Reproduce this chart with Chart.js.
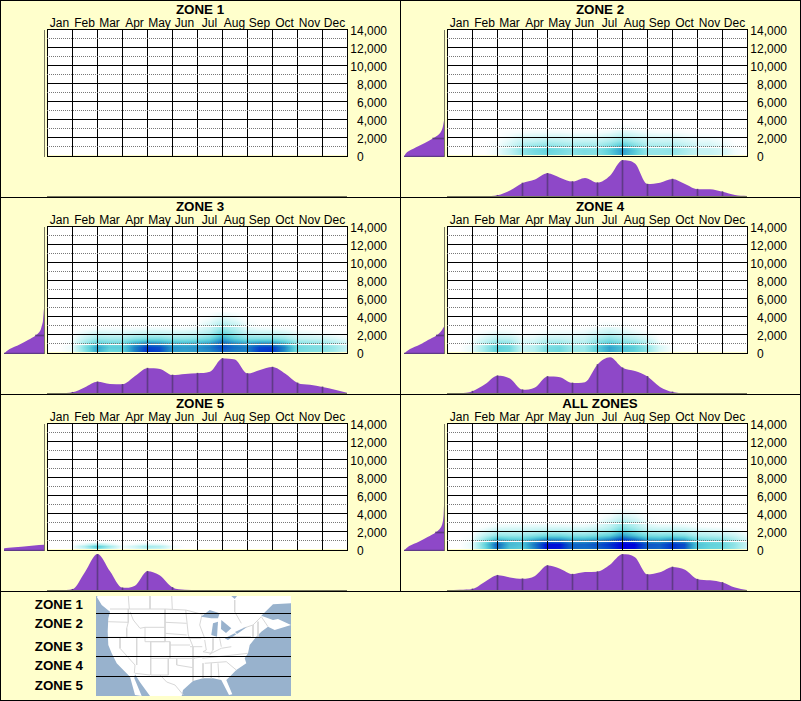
<!DOCTYPE html>
<html>
<head>
<meta charset="utf-8">
<title>Zones</title>
<script src="https://cdn.jsdelivr.net/npm/chart.js@4"></script>
<style>
html, body { margin: 0; padding: 0; background: #ffffcc; overflow: hidden; }
#page { position: relative; width: 801px; height: 701px; }
canvas { position: absolute; display: block; }
.rule { position: absolute; background: #000; z-index: 5; }
</style>
</head>
<body>
<div id="page"></div>
<script>
'use strict'

var months = ['Jan', 'Feb', 'Mar', 'Apr', 'May', 'Jun', 'Jul', 'Aug', 'Sep', 'Oct', 'Nov', 'Dec'];
var zoneNames = ['ZONE 1', 'ZONE 2', 'ZONE 3', 'ZONE 4', 'ZONE 5', 'ALL ZONES'];
var legendNames = ['ZONE 1', 'ZONE 2', 'ZONE 3', 'ZONE 4', 'ZONE 5'];

// bottom profile, one value per half month, percent of the tallest
var monthSteps = [0, .5, 1, 1.5, 2, 2.5, 3, 3.5, 4, 4.5, 5, 5.5, 6, 6.5, 7, 7.5, 8, 8.5, 9, 9.5, 10, 10.5, 11, 11.5, 12];
var profile1 = [];
var profile2 = [0, 0, 0, 0, 2, 15, 36, 46, 63, 51, 40, 50, 37, 56, 99, 90, 33, 37, 47, 33, 19, 19, 12, 3, 0];
var profile3 = [0, 0, 2, 16, 31, 25, 24, 47, 69, 67, 50, 53, 55, 59, 96, 93, 54, 64, 72, 54, 28, 23, 17, 9, 0];
var profile4 = [0, 0, 5, 24, 48, 40, 9, 15, 46, 44, 28, 30, 79, 99, 70, 61, 46, 17, 3, 0, 0, 0, 0, 0, 0];
var profile5 = [0, 0, 2, 50, 100, 52, 6, 12, 52, 40, 7, 1, 0, 0, 0, 0, 0, 0, 0, 0, 0, 0, 0, 0, 0];
var profileAll = [0, 1, 3, 23, 41, 35, 31, 39, 68, 59, 44, 50, 51, 70, 99, 91, 43, 49, 64, 56, 30, 27, 21, 7, 0];

// side profile by elevation
var sideElev = [0, 500, 1000, 1500, 2000, 2500, 3000, 3500, 4000, 4500, 5000];
var sideElevZone5 = [0, 220, 440, 670];
var side1 = [];
var side2 = [100, 92, 71, 48, 28, 12, 5, 2, 0];
var side3 = [100, 86, 61, 40, 21, 10, 6, 3, 2, 1, 0];
var side4 = [100, 85, 60, 40, 19, 7, 0];
var side5 = [100, 100, 50, 0];
var sideAll = [100, 87, 62, 41, 21, 9, 4, 2, 1, 0.5, 0];

// colour strength by elevation row and half month, rows run from the ground up
var heatRows = [0, 500, 1000, 1500, 2000, 2500, 3000, 3500, 4000, 4500];
var heatRowsZone5 = [0, 250, 500, 750];
var heat1 = [];
var heat2 = [
    [0, 0, 0, 0, 3, 14, 30, 38, 42, 38, 32, 36, 34, 46, 64, 48, 30, 30, 30, 22, 14, 14, 10, 3, 0],
    [0, 0, 0, 0, 3, 15, 32, 40, 45, 40, 34, 38, 35, 48, 66, 50, 30, 30, 32, 24, 15, 14, 10, 3, 0],
    [0, 0, 0, 0, 2, 10, 24, 30, 34, 30, 26, 28, 26, 36, 54, 38, 24, 24, 24, 18, 11, 10, 6, 1, 0],
    [0, 0, 0, 0, 1, 6, 14, 16, 20, 18, 15, 16, 15, 22, 34, 24, 15, 14, 14, 10, 6, 6, 3, 0, 0],
    [0, 0, 0, 0, 0, 3, 8, 9, 10, 10, 8, 8, 8, 12, 20, 14, 9, 8, 8, 5, 3, 2, 1, 0, 0],
    [0, 0, 0, 0, 0, 1, 2, 3, 3, 3, 2, 2, 2, 4, 9, 6, 3, 2, 2, 1, 0, 0, 0, 0, 0],
    [0, 0, 0, 0, 0, 0, 0, 0, 0, 0, 0, 0, 0, 0, 2, 1, 0, 0, 0, 0, 0, 0, 0, 0, 0]
];
var heat3 = [
    [0, 0, 3, 32, 62, 42, 44, 72, 92, 88, 66, 64, 66, 70, 80, 74, 72, 90, 92, 70, 40, 36, 34, 26, 12],
    [0, 0, 4, 36, 64, 48, 48, 72, 90, 86, 68, 66, 68, 74, 86, 78, 74, 88, 90, 72, 42, 38, 36, 28, 14],
    [0, 0, 2, 26, 46, 40, 40, 58, 68, 64, 55, 54, 56, 62, 80, 68, 60, 66, 66, 54, 32, 30, 28, 20, 10],
    [0, 0, 1, 14, 26, 24, 24, 32, 36, 36, 30, 30, 32, 40, 62, 46, 34, 34, 34, 28, 16, 14, 12, 8, 3],
    [0, 0, 0, 6, 12, 10, 10, 14, 16, 16, 14, 14, 16, 24, 46, 32, 18, 16, 16, 12, 6, 5, 3, 1, 0],
    [0, 0, 0, 1, 3, 3, 3, 4, 5, 5, 4, 4, 6, 14, 32, 22, 8, 5, 4, 3, 1, 0, 0, 0, 0],
    [0, 0, 0, 0, 0, 0, 0, 0, 0, 0, 0, 0, 2, 8, 22, 14, 3, 0, 0, 0, 0, 0, 0, 0, 0],
    [0, 0, 0, 0, 0, 0, 0, 0, 0, 0, 0, 0, 0, 4, 12, 7, 1, 0, 0, 0, 0, 0, 0, 0, 0],
    [0, 0, 0, 0, 0, 0, 0, 0, 0, 0, 0, 0, 0, 1, 5, 3, 0, 0, 0, 0, 0, 0, 0, 0, 0],
    [0, 0, 0, 0, 0, 0, 0, 0, 0, 0, 0, 0, 0, 0, 1, 0, 0, 0, 0, 0, 0, 0, 0, 0, 0]
];
var heat4 = [
    [0, 0, 5, 26, 46, 40, 14, 20, 38, 42, 28, 28, 46, 62, 52, 46, 32, 8, 1, 0, 0, 0, 0, 0, 0],
    [0, 0, 5, 26, 48, 42, 14, 20, 38, 42, 28, 28, 48, 64, 54, 48, 32, 9, 1, 0, 0, 0, 0, 0, 0],
    [0, 0, 3, 18, 34, 30, 9, 14, 26, 28, 20, 20, 36, 48, 38, 34, 20, 4, 0, 0, 0, 0, 0, 0, 0],
    [0, 0, 1, 9, 18, 16, 5, 7, 14, 14, 11, 13, 24, 32, 24, 18, 9, 1, 0, 0, 0, 0, 0, 0, 0],
    [0, 0, 0, 3, 7, 5, 1, 2, 4, 5, 5, 6, 12, 18, 12, 7, 3, 0, 0, 0, 0, 0, 0, 0, 0],
    [0, 0, 0, 0, 1, 1, 0, 0, 1, 1, 1, 2, 5, 9, 5, 2, 0, 0, 0, 0, 0, 0, 0, 0, 0],
    [0, 0, 0, 0, 0, 0, 0, 0, 0, 0, 0, 0, 1, 2, 1, 0, 0, 0, 0, 0, 0, 0, 0, 0, 0]
];
var heat5 = [
    [0, 0, 0, 10, 35, 14, 0, 6, 15, 12, 1, 0, 0, 0, 0, 0, 0, 0, 0, 0, 0, 0, 0, 0, 0],
    [0, 0, 1, 22, 55, 28, 3, 12, 28, 22, 4, 0, 0, 0, 0, 0, 0, 0, 0, 0, 0, 0, 0, 0, 0],
    [0, 0, 0, 6, 22, 8, 0, 3, 8, 6, 0, 0, 0, 0, 0, 0, 0, 0, 0, 0, 0, 0, 0, 0, 0],
    [0, 0, 0, 0, 0, 0, 0, 0, 0, 0, 0, 0, 0, 0, 0, 0, 0, 0, 0, 0, 0, 0, 0, 0, 0]
];
var heatAll = [
    [0, 0, 4, 40, 78, 52, 48, 72, 98, 96, 80, 78, 80, 88, 100, 98, 82, 80, 92, 84, 50, 44, 42, 30, 12],
    [0, 0, 5, 44, 82, 56, 52, 76, 98, 98, 80, 80, 84, 92, 100, 100, 84, 82, 92, 86, 52, 46, 44, 32, 14],
    [0, 0, 3, 32, 60, 52, 50, 62, 74, 72, 62, 62, 66, 76, 92, 82, 64, 62, 70, 64, 42, 38, 36, 24, 10],
    [0, 0, 1, 16, 30, 28, 28, 34, 40, 40, 34, 34, 38, 46, 66, 52, 38, 36, 38, 34, 22, 20, 18, 12, 4],
    [0, 0, 0, 6, 14, 14, 14, 16, 18, 18, 16, 16, 20, 26, 46, 34, 20, 18, 18, 16, 10, 8, 6, 3, 0],
    [0, 0, 0, 1, 4, 5, 5, 6, 6, 6, 5, 5, 8, 16, 32, 22, 9, 6, 6, 5, 2, 1, 0, 0, 0],
    [0, 0, 0, 0, 0, 0, 0, 0, 0, 0, 0, 0, 2, 9, 22, 14, 3, 0, 0, 0, 0, 0, 0, 0, 0],
    [0, 0, 0, 0, 0, 0, 0, 0, 0, 0, 0, 0, 0, 4, 12, 7, 1, 0, 0, 0, 0, 0, 0, 0, 0],
    [0, 0, 0, 0, 0, 0, 0, 0, 0, 0, 0, 0, 0, 1, 5, 3, 0, 0, 0, 0, 0, 0, 0, 0, 0],
    [0, 0, 0, 0, 0, 0, 0, 0, 0, 0, 0, 0, 0, 0, 1, 0, 0, 0, 0, 0, 0, 0, 0, 0, 0]
];

var profiles = [profile1, profile2, profile3, profile4, profile5, profileAll];
var sides = [side1, side2, side3, side4, side5, sideAll];
var sideElevs = [sideElev, sideElev, sideElev, sideElev, sideElevZone5, sideElev];
var heats = [heat1, heat2, heat3, heat4, heat5, heatAll];
var rowLists = [heatRows, heatRows, heatRows, heatRows, heatRowsZone5, heatRows];

// locator map in map units (0-195 across, 0-100 down)
var zoneLabelY = [9.3, 28.7, 51.3, 70, 90];
var zoneLineY = [17.5, 41.5, 60.5, 80.5];
var land = [[2, 0], [195, 0], [195, 7.3], [177, 8.3], [165.3, 19.7], [177, 24], [182, 23], [195, 29], [178.7, 34], [172, 30.7],
    [165.3, 35.7], [160.3, 40.7], [153.7, 49], [152, 57.3], [148.7, 62.3], [150.3, 67.3], [140.3, 74], [133.7, 80.7], [130.3, 84],
    [136.3, 98.3], [133, 99], [125.3, 84], [117, 82.3], [107, 82.3], [97, 85], [87, 94], [85.7, 100], [54, 100], [44, 86.3], [39, 78.3],
    [38.3, 82.3], [45.7, 100], [39, 99], [34, 80.7], [27.3, 74], [20.7, 67.3], [15.7, 57.3], [12.3, 49], [11.7, 35.7], [12.3, 22.3],
    [14, 15.7], [5.7, 9], [0.7, 0.7]];
var lakes = [
    [[105, 20.7], [113.7, 14], [123.7, 17.3], [122, 22.3], [115.3, 22.3]],
    [[115.3, 39], [117, 27.3], [122, 25.7], [121, 40.7]],
    [[125.3, 24], [135.3, 32.3], [130, 37], [125, 33]],
    [[128.7, 42.3], [138.7, 37.3], [140.3, 38.3], [132, 44]],
    [[139, 36], [147, 32.3], [151, 31], [141, 38]],
    [[135.3, 0], [141, 0], [138.7, 3]]
];
var borders = [
    [[14, 13], [69, 13], [89.7, 14], [105, 18]],
    [[12, 25.7], [32.3, 26.3]], [[32.3, 13], [32.3, 26.3], [30.7, 32.3], [30.7, 41.3]],
    [[12, 41.3], [49, 41.3]], [[24, 41.3], [24, 52.3], [39, 69], [38.3, 77.3]], [[40.7, 41.3], [40.7, 69]],
    [[34, 15.7], [37.3, 24], [44, 32.3], [49, 31.3]],
    [[49, 31.3], [69, 31.3], [69, 45.7], [49, 45.7], [49, 31.3]],
    [[54.7, 45.7], [54.7, 79]], [[54.7, 45.7], [74, 45.7], [74, 62.3], [54.7, 62.3]],
    [[72.3, 62.3], [72.3, 79], [54.7, 79]], [[39, 77.3], [54, 79]], [[69, 13], [69, 31.3]],
    [[69, 26.3], [90.7, 27.3]], [[69, 37.3], [90.7, 39]], [[74, 49], [94, 49]], [[74, 62.3], [99, 62.3]],
    [[80.7, 62.3], [80.7, 69], [97, 71.7], [97, 85]], [[64, 79], [70.7, 86], [79, 89], [87.3, 99]],
    [[89.7, 14], [92.3, 39], [97, 50.7], [97, 71.7]], [[92.3, 42.3], [105.3, 42.3]], [[94, 50.7], [106.3, 50.7]], [[97, 62.3], [108.7, 60.7]],
    [[117, 42.3], [117, 54], [113.7, 59]], [[123.7, 42.3], [125.3, 50.7]],
    [[107, 55.7], [115.3, 57.3], [125.3, 52.3], [135.3, 50.7]], [[106.3, 62.3], [137, 59], [152, 57.3]],
    [[108.7, 67.3], [130.3, 65.7], [140.3, 74]], [[115.3, 67.3], [115.3, 82.3]], [[122, 67.3], [123, 82.3]], [[107, 67.3], [107, 82.3]],
    [[135.3, 40.7], [155, 40.7]], [[147, 32.3], [157, 29], [157, 40.7]], [[157, 29], [165.3, 20.7], [172, 30.7]], [[162, 25.7], [162, 40.7]],
    [[138.7, 4], [138.7, 15.7], [145.3, 27.3]], [[32.3, 0], [33.3, 13]], [[54, 0], [54, 13]], [[75.7, 0], [76.3, 13]],
    [[108.7, 44], [110.3, 54], [107, 55.7]], [[106.3, 17.3], [103.7, 29], [108.7, 42.3]]
];

var font = "'Liberation Sans', Arial, sans-serif";
var purple = '#8e48c8';
var divider = '#5f3a87';
var axisGray = '#77775f';
var ocean = '#98b2cd';
var pageBg = '#ffffcc';
var colorStops = [[0, 255, 255, 255], [8, 218, 248, 248], [25, 165, 235, 236], [45, 100, 212, 220], [60, 58, 174, 208], [75, 24, 122, 196], [90, 3, 60, 204], [100, 0, 0, 220]];

var page = document.getElementById('page');

function addCanvas(left, top, width, height, z, opaque) {
    var c = document.createElement('canvas');
    c.width = width;
    c.height = height;
    c.style.left = left + 'px';
    c.style.top = top + 'px';
    c.style.zIndex = z;
    page.appendChild(c);
    // opaque context, so the text gets the same fringed smoothing as the original
    if (opaque) c.getContext('2d', { alpha: false });
    return c;
}

function addRule(left, top, width, height) {
    var d = document.createElement('div');
    d.className = 'rule';
    d.style.cssText = 'left:' + left + 'px;top:' + top + 'px;width:' + width + 'px;height:' + height + 'px';
    page.appendChild(d);
}

function heatColor(v) {
    for (var i = 1; i < colorStops.length; i++) {
        if (v <= colorStops[i][0]) {
            var a = colorStops[i - 1], b = colorStops[i];
            var t = (v - a[0]) / (b[0] - a[0]);
            return [a[1] + (b[1] - a[1]) * t, a[2] + (b[2] - a[2]) * t, a[3] + (b[3] - a[3]) * t];
        }
    }
    return colorStops[colorStops.length - 1].slice(1);
}

function cell(grid, r, c) {
    return (grid[r] && grid[r][c]) || 0;
}

// paints the plot background, reading positions back through the chart's own scales
var heatPlugin = {
    id: 'heatPaint',
    beforeDraw: function (chart) {
        var a = chart.chartArea, ctx = chart.ctx;
        var ds = chart.data.datasets[0];
        ctx.fillStyle = pageBg;
        ctx.fillRect(0, 0, chart.width, chart.height);
        var w = Math.round(a.right - a.left), h = Math.round(a.bottom - a.top);
        var img = ctx.createImageData(w, h);
        for (var py = 0; py < h; py++) {
            var elev = chart.scales.y.getValueForPixel(a.top + py + .5);
            var rows = ds.heatRows, r0 = 0;
            while (r0 < rows.length - 2 && elev > rows[r0 + 1]) r0++;
            var rt = Math.max(0, (elev - rows[r0]) / (rows[r0 + 1] - rows[r0]));
            for (var px = 0; px < w; px++) {
                var m = chart.scales.x.getValueForPixel(a.left + px + .5) * 2;
                var c0 = Math.min(23, Math.floor(m));
                var ct = m - c0;
                var low = cell(ds.heatGrid, r0, c0) * (1 - ct) + cell(ds.heatGrid, r0, c0 + 1) * ct;
                var high = cell(ds.heatGrid, r0 + 1, c0) * (1 - ct) + cell(ds.heatGrid, r0 + 1, c0 + 1) * ct;
                var col = heatColor(rt > 1 ? 0 : low * (1 - rt) + high * rt);
                var i = (py * w + px) * 4;
                img.data[i] = col[0];
                img.data[i + 1] = col[1];
                img.data[i + 2] = col[2];
                img.data[i + 3] = 255;
            }
        }
        ctx.putImageData(img, a.left, a.top);
        // the dotted lines are grey and white in turn, white shows up over the colour
        ctx.fillStyle = '#fff';
        for (var v = 1000; v < 14000; v += 2000) {
            ctx.fillRect(a.left, Math.round(chart.scales.y.getPixelForValue(v)), w, 1);
        }
    }
};

var mapPlugin = {
    id: 'mapPaint',
    beforeDraw: function (chart) {
        chart.ctx.fillStyle = pageBg;
        chart.ctx.fillRect(0, 0, chart.width, chart.height);
    },
    beforeDatasetsDraw: function (chart) {
        var a = chart.chartArea;
        chart.ctx.fillStyle = ocean;
        chart.ctx.fillRect(a.left, a.top, a.right - a.left, a.bottom - a.top);
    }
};

function noLabelPadding(s) {
    s.paddingTop = 0;
    s.paddingBottom = 0;
}

function spacerAxis(position, width, weight) {
    return {
        type: 'linear', position: position, min: 0, max: 1, weight: weight,
        afterFit: function (s) { s.width = width; noLabelPadding(s); },
        grid: { display: false, drawTicks: false },
        border: { display: false },
        ticks: { display: false }
    };
}

function heatChart(i, col, row) {
    var points = [];
    heats[i].forEach(function (line, r) {
        line.forEach(function (v, c) {
            points.push({ x: monthSteps[c], y: rowLists[i][r], v: v });
        });
    });
    return new Chart(addCanvas(col * 400, row * 197, 400, 165, 1, true), {
        type: 'scatter',
        data: { datasets: [{ data: points, pointRadius: 0, heatGrid: heats[i], heatRows: rowLists[i] }] },
        plugins: [heatPlugin],
        options: {
            responsive: false,
            animation: false,
            devicePixelRatio: 1,
            layout: { autoPadding: false, padding: { left: 0, right: 0, top: 0, bottom: 9 } },
            plugins: {
                legend: { display: false },
                tooltip: { enabled: false },
                title: { display: true, text: zoneNames[i], color: '#000', padding: { top: 2, bottom: 0 }, font: { family: font, size: 13.33, weight: 'bold', lineHeight: 1.2 } }
            },
            scales: {
                x: {
                    type: 'linear', position: 'top', min: 0, max: 12,
                    afterFit: function (s) { s.height = 12; },
                    grid: {
                        drawTicks: false,
                        color: function (c) { return Number.isInteger(c.tick.value) ? '#000' : 'rgba(0,0,0,0)'; }
                    },
                    border: { color: '#000' },
                    ticks: {
                        stepSize: .5, autoSkip: false, maxRotation: 0, padding: -1, color: '#000',
                        font: { family: font, size: 12 },
                        callback: function (v) { return Number.isInteger(v) ? '' : months[Math.floor(v)]; }
                    }
                },
                // empty side axes only keep the title centred over the whole panel
                yLeft: spacerAxis('left', 47, 0),
                yRight: spacerAxis('right', 13, 5),
                y: {
                    type: 'linear', position: 'right', min: 0, max: 14000, weight: 0,
                    afterFit: function (s) { s.width = 40; noLabelPadding(s); },
                    grid: {
                        drawTicks: false,
                        color: function (c) { return c.tick.value % 2000 === 0 ? '#000' : '#777'; }
                    },
                    border: {
                        color: '#000',
                        dash: function (c) { return c.tick && c.tick.value % 2000 !== 0 ? [1, 1] : []; }
                    },
                    ticks: {
                        stepSize: 1000, autoSkip: false, crossAlign: 'far', padding: 0, labelOffset: 2, color: '#000',
                        font: { family: font, size: 12 },
                        callback: function (v) {
                            if (v === 0) return '0\u2007\u2007\u2007\u2008';
                            return v % 2000 === 0 ? v.toLocaleString('en-US') : '';
                        }
                    }
                }
            }
        }
    });
}

function bottomChart(i, col, row) {
    var values = profiles[i];
    var points = values.map(function (v, k) { return { x: monthSteps[k], y: v }; });
    var marks = points.filter(function (p) { return Number.isInteger(p.x) && p.y > 0; });
    return new Chart(addCanvas(col * 400 + 47, row * 197 + 158, 300, 39, 2), {
        type: 'bar',
        data: {
            datasets: [
                { type: 'bar', data: marks, backgroundColor: divider, barThickness: 1, order: 0 },
                { type: 'line', data: points, backgroundColor: purple, borderWidth: 0, pointRadius: 0, cubicInterpolationMode: 'monotone', fill: 'origin', order: 1 }
            ]
        },
        options: {
            responsive: false,
            animation: false,
            devicePixelRatio: 1,
            layout: { autoPadding: false, padding: { top: 2, bottom: 1, left: 0, right: 0 } },
            plugins: { legend: { display: false }, tooltip: { enabled: false } },
            scales: {
                // half a pixel of slack so the 1px month marks land on a whole pixel
                x: {
                    type: 'linear', min: -.02, max: 11.98, offset: false,
                    afterFit: function (s) { s.height = 0; },
                    grid: { display: false, drawTicks: false },
                    border: { color: axisGray, z: 1 },
                    ticks: { display: false }
                },
                y: { display: false, min: 0, max: 100 }
            }
        }
    });
}

function sideChart(i, col, row) {
    var values = sides[i];
    var elevs = sideElevs[i];
    var points = values.map(function (v, k) { return { x: v, y: elevs[k] }; });
    var marks = points.filter(function (p) { return (p.y === 0 || p.y === 2000) && p.x > 0; });
    return new Chart(addCanvas(col * 400, row * 197 + 30, 46, 127, 2), {
        type: 'line',
        data: {
            datasets: [
                { type: 'bar', data: marks, backgroundColor: divider, barThickness: 1, order: 0 },
                { type: 'line', data: points, backgroundColor: purple, borderWidth: 0, pointRadius: 0, cubicInterpolationMode: 'monotone', fill: 'origin', order: 1 }
            ]
        },
        options: {
            indexAxis: 'y',
            responsive: false,
            animation: false,
            devicePixelRatio: 1,
            layout: { autoPadding: false, padding: { left: 4, right: 2, top: 0, bottom: 0 } },
            plugins: { legend: { display: false }, tooltip: { enabled: false } },
            scales: {
                x: { type: 'linear', reverse: true, min: 0, max: 100, display: false, offset: false },
                y: {
                    type: 'linear', position: 'right', min: -55, max: 14055, offset: false,
                    afterFit: function (s) { s.width = 0; },
                    grid: { display: false, drawTicks: false },
                    border: { color: axisGray, z: 1 },
                    ticks: { display: false }
                }
            }
        }
    });
}

function mapChart() {
    var sets = [{ data: land, borderWidth: 0, backgroundColor: '#fff', fill: 'shape', showLine: true, pointRadius: 0 }];
    borders.forEach(function (b) {
        sets.push({ data: b, borderColor: '#d8d8d8', borderWidth: 1, showLine: true, pointRadius: 0, fill: false });
    });
    lakes.forEach(function (l) {
        sets.push({ data: l, borderWidth: 0, backgroundColor: ocean, fill: 'shape', showLine: true, pointRadius: 0 });
    });
    zoneLineY.forEach(function (y) {
        sets.push({ data: [[0, y], [195, y]], borderColor: '#000', borderWidth: 1, showLine: true, pointRadius: 0, fill: false });
    });
    // the chart draws the first dataset on top, so flip them
    sets.reverse();
    return new Chart(addCanvas(0, 592, 400, 108, 1, true), {
        type: 'scatter',
        data: { datasets: sets },
        plugins: [mapPlugin],
        options: {
            responsive: false,
            animation: false,
            devicePixelRatio: 1,
            layout: { autoPadding: false, padding: { left: 0, right: 109, top: 4, bottom: 4 } },
            plugins: { legend: { display: false }, tooltip: { enabled: false } },
            scales: {
                x: { type: 'linear', min: 0, max: 195, display: false },
                y: {
                    type: 'linear', reverse: true, min: 0, max: 100,
                    afterFit: function (s) { s.width = 96; noLabelPadding(s); },
                    afterBuildTicks: function (s) { s.ticks = zoneLabelY.map(function (v) { return { value: v }; }); },
                    grid: { display: false, drawTicks: false },
                    border: { display: false },
                    ticks: {
                        autoSkip: false, padding: 13, color: '#000',
                        font: { family: font, size: 13.33, weight: 'bold' },
                        callback: function (v) { return legendNames[zoneLabelY.indexOf(v)]; }
                    }
                }
            }
        }
    });
}

for (var i = 0; i < 6; i++) {
    var col = i % 2, row = Math.floor(i / 2);
    heatChart(i, col, row);
    bottomChart(i, col, row);
    sideChart(i, col, row);
}
mapChart();

addRule(0, 0, 801, 1);
addRule(0, 700, 801, 1);
addRule(0, 0, 1, 701);
addRule(800, 0, 1, 701);
addRule(400, 0, 1, 591);
addRule(0, 197, 801, 1);
addRule(0, 394, 801, 1);
addRule(0, 591, 801, 1);
</script>
</body>
</html>
